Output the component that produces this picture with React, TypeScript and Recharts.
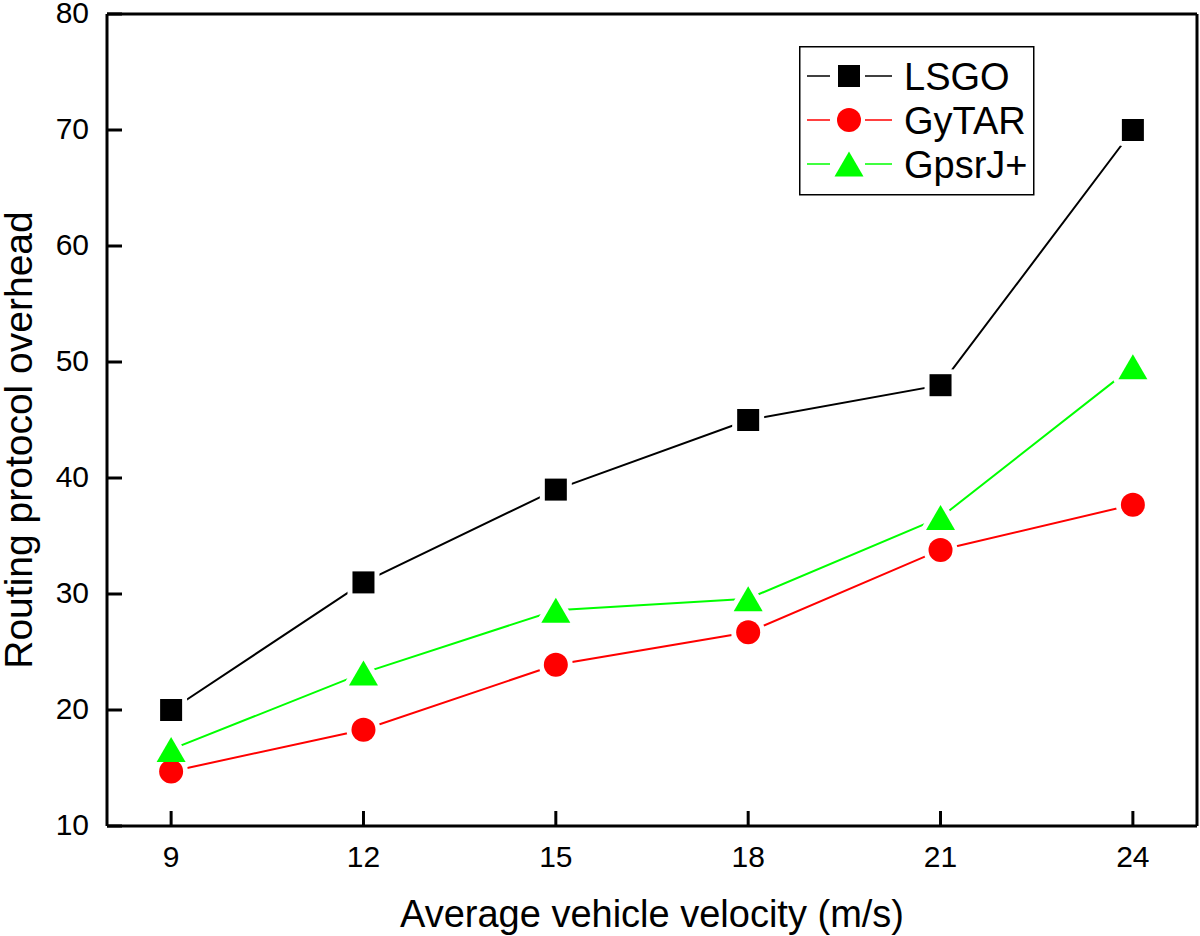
import { Legend, Line, LineChart, ReferenceLine, XAxis, YAxis } from "recharts";

const velocities = [9, 12, 15, 18, 21, 24];
const lsgo = [20, 31, 39, 45, 48, 70];
const gytar = [14.7, 18.3, 23.9, 26.7, 33.8, 37.7];
const gpsrj = [16.6, 23.2, 28.6, 29.6, 36.6, 49.6];

const xTicks = [9, 12, 15, 18, 21, 24];
const yTicks = [10, 20, 30, 40, 50, 60, 70, 80];

const FONT = '"Liberation Sans", Arial, Helvetica, sans-serif';

const series = [
  { key: "lsgo", name: "LSGO", color: "#000000", shape: "square" },
  { key: "gytar", name: "GyTAR", color: "#ff0000", shape: "circle" },
  { key: "gpsrj", name: "GpsrJ+", color: "#00ff00", shape: "triangle" },
];

const rows = velocities.map((v, i) => ({ v, lsgo: lsgo[i], gytar: gytar[i], gpsrj: gpsrj[i] }));

type MarkerProps = { shape: string; cx: number; cy: number; fill: string; halo?: boolean };

function Marker({ shape, cx, cy, fill, halo = false }: MarkerProps) {
  const extra = halo ? { stroke: "#fff", strokeWidth: 10, strokeLinejoin: "round" as const } : {};
  if (shape === "square") {
    return <rect x={cx - 11} y={cy - 11} width={22} height={22} fill={fill} {...extra} />;
  }
  if (shape === "circle") {
    return <circle cx={cx} cy={cy} r={12} fill={fill} {...extra} />;
  }
  const pts = `${cx},${cy - 12.5} ${cx + 14.5},${cy + 12.5} ${cx - 14.5},${cy + 12.5}`;
  return <polygon points={pts} fill={fill} {...extra} />;
}

function XTick({ x, y, payload }: any) {
  return (
    <g>
      <line x1={x} y1={y} x2={x} y2={y - 15} stroke="#000" strokeWidth={3} />
      <text x={x} y={y + 41} textAnchor="middle" fontSize={30} fontFamily={FONT} fill="#000">
        {payload.value}
      </text>
    </g>
  );
}

function YTick({ x, y, payload }: any) {
  return (
    <g>
      <line x1={x} y1={y} x2={x + 15} y2={y} stroke="#000" strokeWidth={3} />
      <text x={x - 18} y={y + 9} textAnchor="end" fontSize={30} fontFamily={FONT} fill="#000">
        {payload.value}
      </text>
    </g>
  );
}

function LegendBox() {
  return (
    <svg width={236} height={150} style={{ display: "block" }}>
      <rect x={0.75} y={0.75} width={234} height={148} fill="#fff" stroke="#000" strokeWidth={1.5} />
      {series.map((s, i) => {
        const cy = 30 + i * 44;
        return (
          <g key={s.key}>
            <line x1={8} y1={cy} x2={31} y2={cy} stroke={s.color} strokeWidth={1.5} />
            <line x1={66} y1={cy} x2={93} y2={cy} stroke={s.color} strokeWidth={1.5} />
            <Marker shape={s.shape} cx={50} cy={cy} fill={s.color} />
            <text x={105} y={cy + 13.5} fontSize={38} fontFamily={FONT} fill="#000">
              {s.name}
            </text>
          </g>
        );
      })}
    </svg>
  );
}

export default function App() {
  return (
    <div style={{ width: 1200, height: 936, position: "relative", background: "#fff" }}>
      <style>{"body{margin:0}"}</style>
      <LineChart width={1200} height={936} data={rows} margin={{ top: 14, right: 3, left: 0, bottom: 0 }}>
        <XAxis
          dataKey="v"
          type="number"
          domain={[8, 25]}
          ticks={xTicks}
          interval={0}
          allowDataOverflow
          height={110}
          tickSize={0}
          tickMargin={0}
          tickLine={false}
          axisLine={{ stroke: "#000", strokeWidth: 3 }}
          tick={<XTick />}
          label={{
            value: "Average vehicle velocity (m/s)",
            position: "insideBottom",
            offset: 9,
            fontSize: 38,
            fontFamily: FONT,
            fill: "#000",
          }}
        />
        <YAxis
          type="number"
          domain={[10, 80]}
          ticks={yTicks}
          interval={0}
          allowDataOverflow
          width={107}
          tickSize={0}
          tickMargin={0}
          tickLine={false}
          axisLine={{ stroke: "#000", strokeWidth: 3 }}
          tick={<YTick />}
          label={(props: any) => (
            <text
              x={32}
              y={440}
              transform="rotate(-90, 32, 440)"
              textAnchor="middle"
              fontSize={39}
              fontFamily={FONT}
              fill="#000"
            >
              Routing protocol overhead
            </text>
          )}
        />
        <ReferenceLine y={80} stroke="#000" strokeWidth={3} />
        <ReferenceLine x={25} stroke="#000" strokeWidth={3} />
        {series.map((s) => (
          <Line
            key={`line-${s.key}`}
            dataKey={s.key}
            type="linear"
            stroke={s.color}
            strokeWidth={2}
            isAnimationActive={false}
            activeDot={false}
            legendType="none"
            dot={(p: any) => <Marker key={`h-${s.key}-${p.index}`} shape={s.shape} cx={p.cx} cy={p.cy} fill="#fff" halo />}
          />
        ))}
        {series.map((s) => (
          <Line
            key={`dots-${s.key}`}
            dataKey={s.key}
            type="linear"
            stroke="none"
            isAnimationActive={false}
            activeDot={false}
            legendType="none"
            dot={(p: any) => <Marker key={`m-${s.key}-${p.index}`} shape={s.shape} cx={p.cx} cy={p.cy} fill={s.color} />}
          />
        ))}
        <Legend
          layout="horizontal"
          verticalAlign="middle"
          align="center"
          content={() => <LegendBox />}
          wrapperStyle={{ position: "absolute", left: 799, top: 46, width: 236, height: 150, margin: 0, padding: 0 }}
        />
      </LineChart>
    </div>
  );
}
